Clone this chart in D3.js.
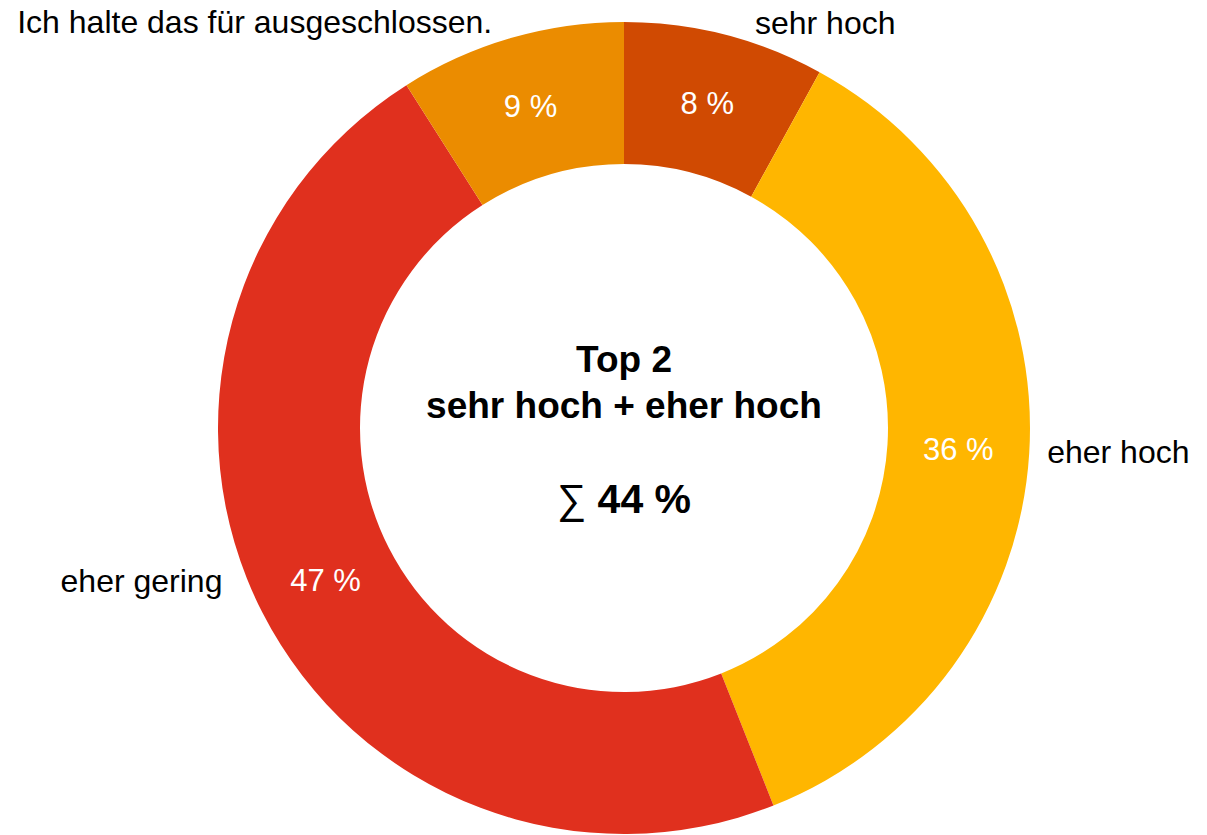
<!DOCTYPE html>
<html>
<head>
<meta charset="utf-8">
<script src="https://cdn.jsdelivr.net/npm/d3@7"></script>
<style>
  body { margin: 0; background: #fff; }
  text { font-family: "Liberation Sans", Arial, sans-serif; }
</style>
</head>
<body>
<div id="chart"></div>
<script>
// chart data
var categories = ["sehr hoch", "eher hoch", "eher gering", "Ich halte das für ausgeschlossen."];
var values = [8, 36, 47, 9];
var colors = ["#D04A02", "#FFB600", "#E0301E", "#EB8C00"];
var centerLines = ["Top 2", "sehr hoch + eher hoch"];
var sumValue = 44;

var width = 1207, height = 835;
var cx = 624, cy = 428;
var outerR = 406, innerR = 264;

// nudges for the outside labels (from arc point), they were placed by hand in the original
var labelNudge = [[25, 7], [-2, -3], [-22, -41], [-13, 3]];
var labelAnchor = ["start", "start", "end", "end"];

var svg = d3.select("#chart")
    .append("svg")
    .attr("width", width)
    .attr("height", height);

var g = svg.append("g").attr("transform", "translate(" + cx + "," + cy + ")");

var pie = d3.pie().sort(null).value(function(d) { return d.value; });
var arc = d3.arc().innerRadius(innerR).outerRadius(outerR);
var labelArc = d3.arc().innerRadius(outerR + 20).outerRadius(outerR + 20);

var rows = categories.map(function(c, i) {
    return { name: c, value: values[i], color: colors[i] };
});
var arcs = pie(rows);

g.selectAll(".slice")
    .data(arcs)
    .join("path")
    .attr("class", "slice")
    .attr("d", arc)
    .attr("fill", function(d) { return d.data.color; });

// percent labels inside ring
g.selectAll(".pct")
    .data(arcs)
    .join("text")
    .attr("class", "pct")
    .attr("x", function(d) { return arc.centroid(d)[0]; })
    .attr("y", function(d) { return arc.centroid(d)[1]; })
    .attr("dy", "0.35em")
    .attr("text-anchor", "middle")
    .attr("font-size", 31)
    .attr("fill", "#fff")
    .text(function(d) { return d.data.value + " %"; });

// category labels outside
g.selectAll(".cat")
    .data(arcs)
    .join("text")
    .attr("class", "cat")
    .attr("x", function(d, i) { return labelArc.centroid(d)[0] + labelNudge[i][0]; })
    .attr("y", function(d, i) { return labelArc.centroid(d)[1] + labelNudge[i][1]; })
    .attr("dy", "0.35em")
    .attr("text-anchor", function(d, i) { return labelAnchor[i]; })
    .attr("font-size", 32)
    .attr("fill", "#000")
    .text(function(d) { return d.data.name; });

// center text
g.selectAll(".center")
    .data(centerLines)
    .join("text")
    .attr("class", "center")
    .attr("x", 0)
    .attr("y", function(d, i) { return -56 + i * 46; })
    .attr("text-anchor", "middle")
    .attr("font-size", 37)
    .attr("font-weight", "bold")
    .text(function(d) { return d; });

var sum = g.append("text")
    .attr("x", 0)
    .attr("y", 85)
    .attr("text-anchor", "middle")
    .attr("font-size", 41)
    .attr("font-weight", "bold");
sum.append("tspan").attr("font-weight", "normal").text("∑ ");
sum.append("tspan").text(sumValue + " %");
</script>
</body>
</html>
